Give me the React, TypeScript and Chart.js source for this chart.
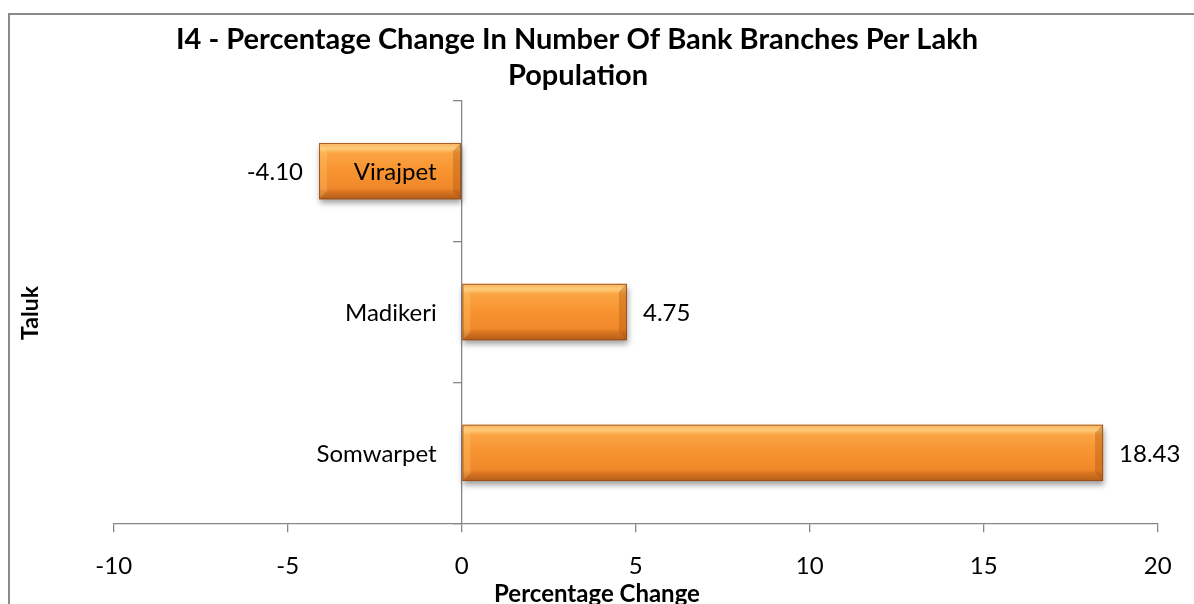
import React, { useEffect, useRef } from "react";
import { Chart, registerables } from "chart.js";

Chart.register(...registerables);

// ---- Data ----
const categories = ["Virajpet", "Madikeri", "Somwarpet"];
const values = [-4.1, 4.75, 18.43];
const xMin = -10;
const xMax = 20;
const xStep = 5;
const titleLines = [
  "I4 - Percentage Change In Number Of Bank Branches Per Lakh",
  "Population",
];
const xTitle = "Percentage Change";
const yTitle = "Taluk";

const FONT = "Lato, 'Open Sans', sans-serif";
const AXIS_GREY = "#868686";

function barGradient(ctx: any) {
  const chart = ctx.chart;
  const yScale = chart.scales?.y;
  if (!yScale || typeof ctx.dataIndex !== "number") return "#f7952f";
  const c = yScale.getPixelForValue(ctx.dataIndex);
  const half = (yScale.height / categories.length) * 0.4 / 2;
  if (!isFinite(c) || !isFinite(half) || half <= 0) return "#f7952f";
  const g = chart.ctx.createLinearGradient(0, c - half, 0, c + half);
  g.addColorStop(0, "#f9b25e");
  g.addColorStop(0.1, "#fdcb78");
  g.addColorStop(0.18, "#fba443");
  g.addColorStop(0.5, "#f7932f");
  g.addColorStop(0.8, "#ef882b");
  g.addColorStop(0.86, "#d97520");
  g.addColorStop(1, "#b35d1a");
  return g;
}

const framePlugin = {
  id: "frame",
  beforeDraw(chart: any) {
    const ctx = chart.ctx;
    ctx.save();
    ctx.fillStyle = "#ffffff";
    ctx.fillRect(0, 0, chart.width, chart.height);
    ctx.strokeStyle = "#8a8a8a";
    ctx.lineWidth = 2;
    ctx.strokeRect(9, 14, chart.width + 50, chart.height + 50);
    ctx.restore();
  },
};

const shadowPlugin = {
  id: "barShadow",
  beforeDatasetsDraw(chart: any) {
    const ctx = chart.ctx;
    ctx.save();
    ctx.shadowColor = "rgba(0,0,0,0.38)";
    ctx.shadowBlur = 6;
    ctx.shadowOffsetX = 1;
    ctx.shadowOffsetY = 4;
  },
  afterDatasetsDraw(chart: any) {
    const ctx = chart.ctx;
    ctx.restore();
    const meta = chart.getDatasetMeta(0);
    meta.data.forEach((bar: any) => {
      const left = Math.min(bar.x, bar.base);
      const right = Math.max(bar.x, bar.base);
      const top = bar.y - bar.height / 2;
      const bottom = bar.y + bar.height / 2;
      if (![left, right, top, bottom].every((n) => isFinite(n))) return;
      const b = 8;
      ctx.save();
      ctx.beginPath();
      ctx.moveTo(right, top);
      ctx.lineTo(right, bottom);
      ctx.lineTo(right - b, bottom - b);
      ctx.lineTo(right - b, top + b);
      ctx.closePath();
      ctx.fillStyle = "rgba(170,80,10,0.35)";
      ctx.fill();
      ctx.beginPath();
      ctx.moveTo(left, top);
      ctx.lineTo(left, bottom);
      ctx.lineTo(left + b, bottom - b);
      ctx.lineTo(left + b, top + b);
      ctx.closePath();
      ctx.fillStyle = "rgba(255,215,140,0.25)";
      ctx.fill();
      ctx.strokeStyle = "rgba(150,75,20,0.85)";
      ctx.lineWidth = 1;
      ctx.strokeRect(left + 0.5, top + 0.5, right - left - 1, bottom - top - 1);
      ctx.restore();
    });
  },
};

const textPlugin = {
  id: "texts",
  afterDraw(chart: any) {
    const ctx = chart.ctx;
    const area = chart.chartArea;
    const xs = chart.scales.x;
    const ys = chart.scales.y;
    ctx.save();
    ctx.fillStyle = "#000";
    // title
    ctx.font = `bold 29px ${FONT}`;
    ctx.textAlign = "center";
    ctx.textBaseline = "alphabetic";
    ctx.fillText(titleLines[0], 577, 49);
    ctx.fillText(titleLines[1], 578, 85);
    // axis titles
    ctx.font = `bold 24px ${FONT}`;
    ctx.fillText(xTitle, 597, 602);
    ctx.save();
    ctx.translate(38, (area.top + area.bottom) / 2 + 1);
    ctx.rotate(-Math.PI / 2);
    ctx.font = `bold 23px ${FONT}`;
    ctx.fillText(yTitle, 0, 0);
    ctx.restore();
    // category labels next to the zero axis
    ctx.font = `24px ${FONT}`;
    ctx.textBaseline = "middle";
    ctx.textAlign = "right";
    const zeroX = xs.getPixelForValue(0);
    categories.forEach((cat, i) => {
      ctx.fillText(cat, zeroX - 25, ys.getPixelForValue(i) + 1);
    });
    // value labels
    const meta = chart.getDatasetMeta(0);
    meta.data.forEach((bar: any, i: number) => {
      const v = values[i];
      const txt = v.toFixed(2);
      if (v >= 0) {
        ctx.textAlign = "left";
        ctx.fillText(txt, bar.x + 16, bar.y + 1);
      } else {
        ctx.textAlign = "right";
        ctx.fillText(txt, bar.x - 16, bar.y + 1);
      }
    });
    ctx.restore();
  },
};

export default function App() {
  const canvasRef = useRef<HTMLCanvasElement | null>(null);

  useEffect(() => {
    let chart: Chart | null = null;
    let cancelled = false;
    const make = () => {
      if (cancelled || !canvasRef.current) return;
      chart = new Chart(canvasRef.current, {
        type: "bar",
        data: {
          labels: categories,
          datasets: [
            {
              data: values,
              backgroundColor: barGradient as any,
              borderWidth: 0,
              barPercentage: 0.4,
              categoryPercentage: 1,
            },
          ],
        },
        options: {
          animation: false,
          responsive: false,
          indexAxis: "y",
          layout: {
            padding: { left: 113.7, right: 36.3, top: 100.7, bottom: 0 },
          },
          plugins: {
            legend: { display: false },
            title: { display: false },
            tooltip: { enabled: false },
          },
          scales: {
            x: {
              type: "linear",
              min: xMin,
              max: xMax,
              ticks: {
                stepSize: xStep,
                color: "#000",
                font: { family: FONT, size: 24 },
                padding: 20,
              },
              grid: {
                drawOnChartArea: false,
                drawTicks: true,
                tickLength: 9,
                color: AXIS_GREY,
                lineWidth: 1.3,
              },
              border: { color: AXIS_GREY, width: 1.3 },
              afterFit: (scale: any) => {
                scale.height = 80.7;
              },
            },
            y: {
              type: "category",
              position: { x: 0 } as any,
              ticks: { display: false },
              grid: {
                drawOnChartArea: false,
                drawTicks: true,
                tickLength: 8,
                offset: true,
                color: AXIS_GREY,
                lineWidth: 1.3,
              },
              border: { color: AXIS_GREY, width: 1.3 },
            },
          },
        },
        plugins: [framePlugin, shadowPlugin, textPlugin],
      });
    };
    const fontsReady = (document as any).fonts
      ? Promise.all([
          (document as any).fonts.load(`24px Lato`),
          (document as any).fonts.load(`bold 29px Lato`),
        ]).catch(() => null)
      : Promise.resolve(null);
    fontsReady.then(make);
    return () => {
      cancelled = true;
      if (chart) chart.destroy();
    };
  }, []);

  return (
    <div style={{ position: "fixed", left: 0, top: 0, width: 1194, height: 604, background: "#fff" }}>
      <canvas ref={canvasRef} width={1194} height={604} style={{ display: "block", width: 1194, height: 604 }} />
    </div>
  );
}
